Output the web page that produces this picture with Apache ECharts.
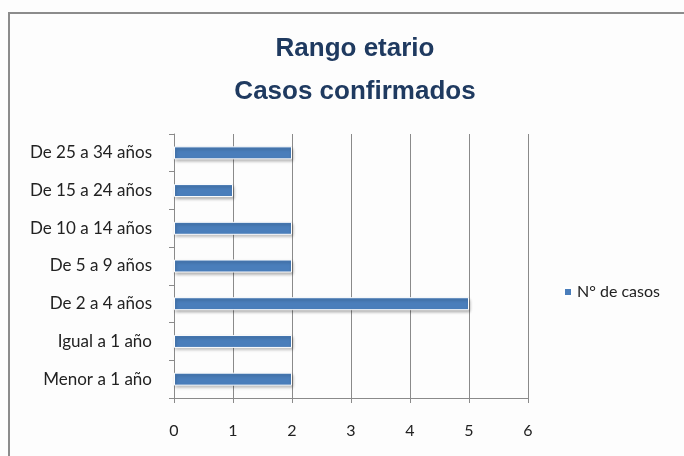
<!DOCTYPE html>
<html>
<head>
<meta charset="utf-8">
<script src="https://cdn.jsdelivr.net/npm/echarts@6/dist/echarts.min.js"></script>
<style>
  html, body { margin: 0; padding: 0; background: #fff; }
  #chart { width: 684px; height: 456px; }
</style>
</head>
<body>
<div id="chart"></div>
<script>
// datos del gráfico
const categories = ['Menor a 1 año', 'Igual a 1 año', 'De 2 a 4 años', 'De 5 a 9 años', 'De 10 a 14 años', 'De 15 a 24 años', 'De 25 a 34 años']
const casos = [2, 2, 5, 2, 2, 1, 2]
const seriesName = 'N° de casos'
const titleLines = ['Rango etario', 'Casos confirmados']

const chart = echarts.init(document.getElementById('chart'))

const option = {
  backgroundColor: '#fdfdfd',
  animation: false,
  title: {
    text: titleLines.join('\n'),
    left: 350,
    textAlign: 'center',
    top: 22,
    textStyle: {
      fontFamily: 'Liberation Sans, Arial, sans-serif',
      fontSize: 26,
      fontWeight: 'bold',
      color: '#1f3a60',
      lineHeight: 43
    }
  },
  graphic: [{
    type: 'rect',
    shape: { x: 9, y: 13, width: 700, height: 460 },
    style: { fill: 'none', stroke: '#8c8c8c', lineWidth: 2 },
    silent: true
  }],
  legend: {
    data: [seriesName],
    left: 558,
    top: 279,
    itemWidth: 8,
    itemHeight: 8,
    itemGap: 5,
    icon: 'rect',
    textStyle: { fontFamily: 'Lato, Open Sans, sans-serif', fontSize: 16, color: '#222' }
  },
  grid: { left: 174, right: 156, top: 134, bottom: 58 },
  xAxis: {
    type: 'value',
    min: 0,
    max: 6,
    interval: 1,
    axisLine: { show: true, lineStyle: { color: '#8a8a8a', width: 1 } },
    axisTick: { show: true, length: 5, lineStyle: { color: '#8a8a8a' } },
    splitLine: { show: true, lineStyle: { color: '#8a8a8a', width: 1 } },
    axisLabel: { margin: 25, fontFamily: 'Lato, Open Sans, sans-serif', fontSize: 16, color: '#222' }
  },
  yAxis: {
    type: 'category',
    data: categories,
    axisLine: { show: true, lineStyle: { color: '#8a8a8a', width: 1 } },
    axisTick: { show: true, length: 5, lineStyle: { color: '#8a8a8a' } },
    axisLabel: { margin: 22, fontFamily: 'Lato, Open Sans, sans-serif', fontSize: 17, color: '#222' }
  },
  series: [{
    name: seriesName,
    type: 'bar',
    data: casos,
    barWidth: 13,
    itemStyle: {
      color: '#4a7ebb',
      borderColor: '#ffffff',
      borderWidth: 1,
      shadowColor: 'rgba(0,0,0,0.3)',
      shadowBlur: 3,
      shadowOffsetX: 1,
      shadowOffsetY: 2
    }
  }]
}

chart.setOption(option)
</script>
</body>
</html>
